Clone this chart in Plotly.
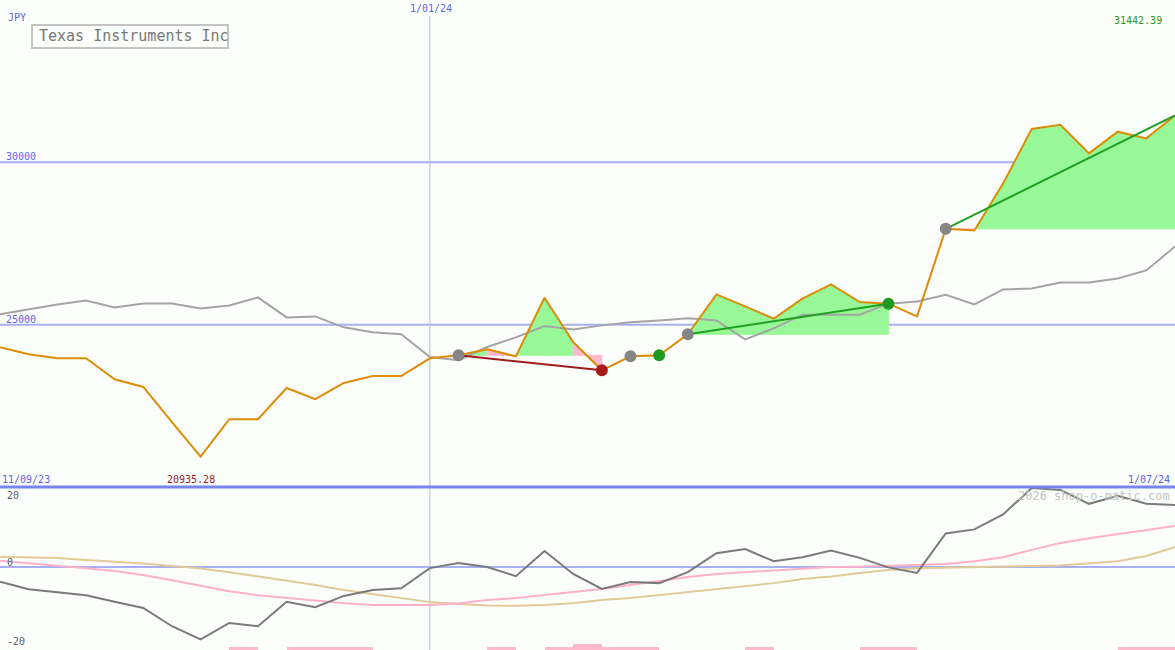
import plotly.graph_objects as go

# ---------------- data (weekly points, index 0..41) ----------------
close = [24302, 24087, 23964, 23964, 23318, 23081, 21996, 20935.28, 22088, 22088,
         23050, 22703, 23204, 23419, 23419, 23964, 24056, 24240, 24025, 25830,
         24465, 23595, 24025, 24056, 24702, 25932, 25563, 25185, 25800, 26239,
         25695, 25646, 25255, 27952, 27900, 29345, 31027, 31159, 30277, 30944,
         30738, 31442.39]
ma = [25317, 25470, 25624, 25747, 25532, 25655, 25655, 25501, 25593, 25839,
      25224, 25255, 24917, 24763, 24702, 24004, 23903, 24312, 24610, 24957,
      24855, 24978, 25071, 25132, 25194, 25132, 24548, 24886, 25307, 25307,
      25307, 25646, 25716, 25922, 25624, 26085, 26116, 26301, 26301, 26424,
      26670, 27408]
osc = [-4.0, -6.1, -6.9, -7.7, -9.5, -11.2, -16.2, -19.8, -15.3, -16.2,
       -9.5, -11.0, -7.9, -6.3, -5.8, -0.3, 1.1, 0.0, -2.5, 4.4,
       -1.9, -6.0, -4.1, -4.4, -1.4, 3.8, 4.9, 1.6, 2.7, 4.5,
       2.5, -0.1, -1.6, 9.2, 10.3, 14.4, 21.6, 21.1, 17.3, 19.5,
       17.3, 17.0]
osc_fast = [1.7, 1.1, 0.3, -0.3, -1.1, -2.2, -3.6, -5.2, -6.6, -7.7,
            -8.5, -9.3, -9.9, -10.4, -10.5, -10.4, -10.0, -9.0, -8.5, -7.7,
            -6.8, -6.0, -4.9, -3.8, -2.7, -1.9, -1.4, -0.8, -0.3, 0.0,
            0.1, 0.3, 0.4, 0.8, 1.6, 2.7, 4.7, 6.6, 7.9, 9.0,
            10.1, 11.2]
osc_slow = [2.8, 2.7, 2.5, 1.9, 1.5, 1.0, 0.3, -0.4, -1.4, -2.5,
            -3.6, -4.9, -6.3, -7.4, -8.5, -9.6, -10.1, -10.5, -10.6, -10.4,
            -9.9, -9.0, -8.5, -7.7, -6.8, -6.0, -5.2, -4.4, -3.3, -2.6,
            -1.6, -0.8, -0.3, -0.1, 0.0, 0.1, 0.3, 0.4, 1.0, 1.6,
            3.0, 5.5]
# small histogram bars (per interval ending at index i)
hist = [0, 0, 0, 0, 0, 0, 0, 0, 0, 1,
        0, 1, 1, 1, 0, 0, 0, 0, 1, 0,
        1, 2, 1, 1, 0, 0, 0, 1, 0, 0,
        0, 1, 1, 0, 0, 0, 0, 0, 0, 0,
        1, 1]
# trades: (entry index, exit index)
trades = [(16, 21), (22, 23), (24, 31), (33, 41)]
exit_marks = {21: "#a81c1c", 23: "#1f9a1f", 31: "#1f9a1f"}

date_left, date_mid, date_right = "11/09/23", "1/01/24", "1/07/24"
mid_index = 15
title = "Texas Instruments Inc"
currency = "JPY"

# ---------------- figure ----------------
W, H = 1175, 650
n = len(close)
xs = list(range(n))
BOT = 487  # separator pixel row
split = (H - BOT) / H

ORANGE = "#dc8c06"
GREEN_FILL = "#98f898"
PINK_FILL = "#ffb8cc"
BLUE_TXT = "#5a64f0"
FONT = "DejaVu Sans Mono"

fig = go.Figure()

# fills per segment within each trade
for a, b in trades:
    base = close[a]
    for i in range(a, b):
        col = GREEN_FILL if close[i + 1] >= base else PINK_FILL
        fig.add_trace(go.Scatter(
            x=[i, i, i + 1, i + 1, i], y=[base, close[i], close[i + 1], base, base],
            fill="toself", fillcolor=col, mode="lines", line=dict(color=col, width=1),
            hoverinfo="skip", showlegend=False, xaxis="x", yaxis="y"))

fig.add_trace(go.Scatter(x=xs, y=ma, mode="lines", line=dict(color="#a4a4a4", width=2),
                         showlegend=False, xaxis="x", yaxis="y"))
fig.add_trace(go.Scatter(x=xs, y=close, mode="lines", line=dict(color=ORANGE, width=2),
                         showlegend=False, xaxis="x", yaxis="y"))

# trade lines
for a, b in trades:
    if b - a < 2:
        continue
    col = "#a01c1c" if close[b] < close[a] else "#20a020"
    fig.add_trace(go.Scatter(x=[a, b], y=[close[a], close[b]], mode="lines",
                             line=dict(color=col, width=2), showlegend=False,
                             xaxis="x", yaxis="y"))

# markers
entries = [a for a, b in trades]
fig.add_trace(go.Scatter(x=entries, y=[close[i] for i in entries], mode="markers",
                         marker=dict(color="#858585", size=12), showlegend=False,
                         cliponaxis=False, xaxis="x", yaxis="y"))
ex = list(exit_marks.keys())
fig.add_trace(go.Scatter(x=ex, y=[close[i] for i in ex], mode="markers",
                         marker=dict(color=[exit_marks[i] for i in ex], size=12),
                         showlegend=False, cliponaxis=False, xaxis="x", yaxis="y"))

# lower panel
bx = [i - 0.5 for i in xs if hist[i] > 0]
by = [hist[i] for i in xs if hist[i] > 0]
fig.add_trace(go.Bar(x=bx, y=by, width=1, marker=dict(color="#ffb8cc", line=dict(width=0)),
                     showlegend=False, xaxis="x2", yaxis="y3"))
fig.add_trace(go.Scatter(x=xs, y=osc_slow, mode="lines", line=dict(color="#e2ca98", width=2),
                         showlegend=False, xaxis="x2", yaxis="y2"))
fig.add_trace(go.Scatter(x=xs, y=osc_fast, mode="lines", line=dict(color="#ffb0c8", width=2),
                         showlegend=False, xaxis="x2", yaxis="y2"))
fig.add_trace(go.Scatter(x=xs, y=osc, mode="lines", line=dict(color="#7a7a7a", width=2),
                         showlegend=False, xaxis="x2", yaxis="y2"))

ax_common = dict(range=[0, n - 1], showgrid=False, zeroline=False, showticklabels=False,
                 showline=False, ticks="")
fig.update_layout(
    width=W, height=H, autosize=False,
    margin=dict(l=0, r=0, t=0, b=0),
    paper_bgcolor="#fcfefc", plot_bgcolor="#fcfefc",
    bargap=0, hovermode=False,
    xaxis=dict(domain=[0, 1], anchor="y", **ax_common),
    xaxis2=dict(domain=[0, 1], anchor="y2", **ax_common),
    yaxis=dict(domain=[split, 1], range=[20000, 35000], showgrid=False, zeroline=False,
               showticklabels=False, showline=False),
    yaxis2=dict(domain=[0, split], range=[-22.7, 21.9], showgrid=False, zeroline=False,
                showticklabels=False, showline=False),
    yaxis3=dict(overlaying="y2", range=[0, 54.3], showgrid=False, zeroline=False,
                showticklabels=False, showline=False),
)

shapes = []
for v in (25000, 30000):
    shapes.append(dict(type="line", xref="paper", x0=0, x1=1, yref="y", y0=v, y1=v,
                       line=dict(color="#a8b0f4", width=2), layer="below"))
shapes.append(dict(type="line", xref="paper", x0=0, x1=1, yref="y2", y0=0, y1=0,
                   line=dict(color="#a8b0f4", width=2), layer="below"))
shapes.append(dict(type="line", xref="paper", x0=0, x1=1, yref="paper", y0=split, y1=split,
                   line=dict(color="#7884f0", width=3)))
shapes.append(dict(type="line", xref="x", x0=mid_index, x1=mid_index, yref="paper",
                   y0=0, y1=1 - 16 / H, line=dict(color="#b8bcd0", width=1), layer="below"))
# title box
shapes.append(dict(type="rect", xref="paper", yref="paper", x0=32 / W, x1=228 / W,
                   y0=1 - 48 / H, y1=1 - 25 / H, line=dict(color="#c4c4c4", width=2),
                   fillcolor="rgba(0,0,0,0)"))
fig.update_layout(shapes=shapes)


def ann(text, px, py, color, size=10, xanchor="left"):
    return dict(text=text, x=px / W, y=1 - py / H, xref="paper", yref="paper",
                showarrow=False, xanchor=xanchor, yanchor="middle",
                font=dict(family=FONT, size=size, color=color))


annots = [
    ann(title, 37, 36.5, "#787878", size=15),
    ann(currency, 6, 17, BLUE_TXT),
    ann(date_mid, 431, 9, BLUE_TXT, xanchor="center"),
    ann(f"{max(close):.2f}", 1164, 21, "#1f9a1f", xanchor="right"),
    ann("30000", 4, 156, BLUE_TXT),
    ann("25000", 4, 319, BLUE_TXT),
    ann(date_left, 0, 479, BLUE_TXT),
    ann(f"{min(close):.2f}", 191, 479, "#a01c1c", xanchor="center"),
    ann(date_right, 1172, 479, BLUE_TXT, xanchor="right"),
    ann("20", 5, 495, "#606060"),
    ann("0", 5, 562, "#606060"),
    ann("-20", 5, 641, "#606060"),
    ann("2026 shop-o-matic.com", 1172, 496, "#c4c4c4", size=12, xanchor="right"),
]
fig.update_layout(annotations=annots)

fig.write_html("out.html", config={"displayModeBar": False, "staticPlot": True},
               post_script="document.body.style.margin='0px';")
